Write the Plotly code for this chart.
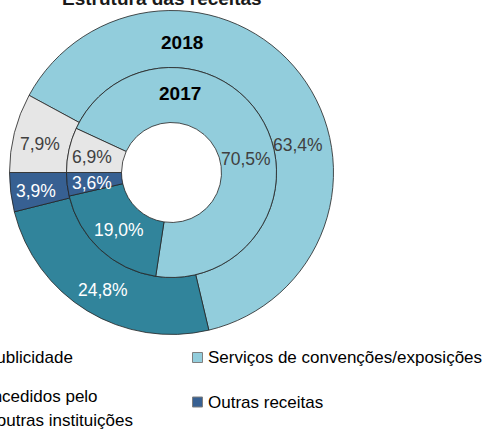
import plotly.graph_objects as go

# ---- data ----
categories = [
    "Serviços de convenções/exposições",
    "Apoios concedidos pelo Estado e outras instituições",
    "Outras receitas",
    "Publicidade",
]
values_2018 = [63.4, 24.8, 3.9, 7.9]
values_2017 = [70.5, 19.0, 3.6, 6.9]
years = ["2018", "2017"]
title_text = "Estrutura das receitas"

# ---- styles ----
colors = ["#92CDDC", "#31849B", "#376092", "#E6E6E6"]
label_colors = ["#404040", "#FFFFFF", "#FFFFFF", "#404040"]
FONT = "Liberation Sans, Arial, sans-serif"

W, H = 488, 432


def px(x):
    return x / W


def py(y):
    return 1 - y / H


def fmt(v):
    return f"{v:.1f}%".replace(".", ",")


# ring geometry (page pixels)
cx, cy = 171.5, 172.5
R_out, R_mid, R_in = 162, 105, 50

# first slice rotated so that "Publicidade" starts at 9 o'clock
rot18 = 270 - 3.6 * sum(values_2018[:3])
rot17 = 270 - 3.6 * sum(values_2017[:3])

fig = go.Figure()
fig.add_trace(go.Pie(
    labels=categories, values=values_2018, sort=False, direction="clockwise",
    rotation=rot18, hole=R_mid / R_out, textinfo="none",
    marker=dict(colors=colors, line=dict(color="#222222", width=0.8)),
    domain=dict(x=[px(cx - R_out), px(cx + R_out)], y=[py(cy + R_out), py(cy - R_out)]),
    showlegend=False, name="2018",
))
fig.add_trace(go.Pie(
    labels=categories, values=values_2017, sort=False, direction="clockwise",
    rotation=rot17, hole=R_in / R_mid, textinfo="none",
    marker=dict(colors=colors, line=dict(color="#222222", width=0.8)),
    domain=dict(x=[px(cx - R_mid), px(cx + R_mid)], y=[py(cy + R_mid), py(cy - R_mid)]),
    showlegend=False, name="2017",
))

annotations = []
# percentage labels (positions as placed in the original chart)
pos_2018 = [(298, 145), (103, 290), (36, 190.5), (40, 144.5)]
pos_2017 = [(246, 159), (119, 230.5), (92, 182.5), (92, 156.5)]
for vals, pos in ((values_2018, pos_2018), (values_2017, pos_2017)):
    for v, (x, y), c in zip(vals, pos, label_colors):
        annotations.append(dict(
            x=px(x), y=py(y), xref="paper", yref="paper", text=fmt(v),
            showarrow=False, xanchor="center", yanchor="middle",
            font=dict(family=FONT, size=17.5, color=c)))

# year labels
for yr, (x, y) in zip(years, [(182, 43), (180, 93)]):
    annotations.append(dict(
        x=px(x), y=py(y), xref="paper", yref="paper", text=f"<b>{yr}</b>",
        showarrow=False, xanchor="center", yanchor="middle",
        font=dict(family=FONT, size=19, color="#000000")))

# title (partly cut off at top, as in the original crop)
annotations.append(dict(
    x=px(161.5), y=py(-1), xref="paper", yref="paper", text=f"<b>{title_text}</b>",
    showarrow=False, xanchor="center", yanchor="middle",
    font=dict(family=FONT, size=19, color="#1a1a1a")))

# legend (hand-built to match original layout)
shapes = []
legend_font = dict(family=FONT, size=17, color="#000000")
# left column: Publicidade, Apoios (partly outside canvas, right-aligned ends)
left_lines = [
    (categories[3], 75, 357.5),
    ("Apoios concedidos pelo", 100, 396),
    ("Estado e outras instituições", 135, 420),
]
for t, xr, y in left_lines:
    annotations.append(dict(
        x=px(xr), y=py(y), xref="paper", yref="paper", text=t,
        showarrow=False, xanchor="right", yanchor="middle", font=legend_font))
# right column
right_items = [(categories[0], colors[0], 357.5), (categories[2], colors[2], 402)]
for t, c, y in right_items:
    annotations.append(dict(
        x=px(206), y=py(y), xref="paper", yref="paper", text=t,
        showarrow=False, xanchor="left", yanchor="middle", font=legend_font))
    shapes.append(dict(
        type="rect", xref="paper", yref="paper",
        x0=px(192.5), x1=px(202.5), y0=py(y + 5), y1=py(y - 5),
        fillcolor=c, line=dict(color="#7F7F7F", width=1)))

fig.update_layout(
    width=W, height=H,
    margin=dict(l=0, r=0, t=0, b=0, autoexpand=False),
    paper_bgcolor="white", plot_bgcolor="white",
    annotations=annotations, shapes=shapes,
    showlegend=False,
)
fig.write_html(
    "out.html",
    config={"displayModeBar": False},
    post_script="document.body.style.margin='0px';document.body.style.overflow='hidden';",
)
